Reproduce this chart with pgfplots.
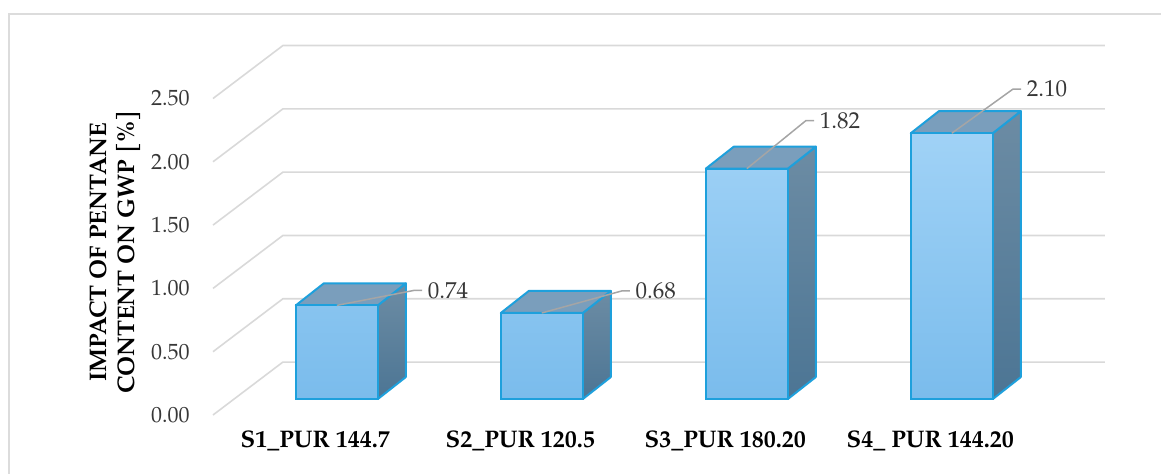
\documentclass[border=0pt]{standalone}
\usepackage{fontspec}
\setmainfont{TeX Gyre Pagella}
\usepackage{pgfplots}
\usepackage{pgfplotstable}
\pgfplotsset{compat=1.18}

\definecolor{gridc}{RGB}{217,217,217}
\definecolor{framec}{RGB}{220,220,220}
\definecolor{frontTop}{RGB}{160,210,246}
\definecolor{frontBot}{RGB}{122,188,236}
\definecolor{edgec}{RGB}{30,160,220}
\definecolor{sideTop}{RGB}{108,140,164}
\definecolor{sideBot}{RGB}{76,117,148}
\definecolor{topc}{RGB}{122,158,188}
\definecolor{leaderc}{RGB}{165,165,165}
\definecolor{tickc}{RGB}{55,55,55}

% bar values and the offsets of their leader lines (axis units)
\pgfplotstableread{
idx val lx ly
1 0.74 0.376 0.118
2 0.68 0.390 0.174
3 1.82 0.288 0.379
4 2.10 0.298 0.348
}\bardata

\begin{document}
\begin{tikzpicture}
\path[use as bounding box] (0,0) rectangle (580.5pt,236.5pt);
\draw[framec, line width=1pt] (4.25pt,-5pt) -- (4.25pt,229.5pt) -- (590pt,229.5pt);
\begin{axis}[
  at={(106.5pt,29pt)}, anchor=south west,
  x=102.5pt, y=63.3pt,
  xmin=0.396, xmax=4.746, ymin=-0.126, ymax=2.793,
  clip=false,
  axis line style={draw=none},
  tick style={draw=none},
  ytick={-0.126,0.374,0.874,1.374,1.874,2.374},
  yticklabels={0.00,0.50,1.00,1.50,2.00,2.50},
  yticklabel style={anchor=east, inner sep=0pt, xshift=-11.5pt,
    font=\fontsize{11}{13}\selectfont, text=tickc},
  xtick={0.895,1.895,2.895,3.895},
  xticklabels={S1\_PUR 144.7, S2\_PUR 120.5, S3\_PUR 180.20, S4\_ PUR 144.20},
  xticklabel style={anchor=north, inner sep=0pt, yshift=-7.5pt,
    font=\bfseries\fontsize{12}{14}\selectfont},
  ylabel={IMPACT OF PENTANE\\CONTENT ON GWP [\%]},
  ylabel style={at={(axis cs:-0.082,1.161)}, anchor=center, align=center,
    font=\bfseries\fontsize{12}{14}\selectfont},
  sideface/.style={draw=edgec, line width=1pt, line join=round,
    top color=sideTop, bottom color=sideBot, forget plot, mark=none},
  topface/.style={draw=edgec, line width=1pt, line join=round,
    fill=topc, forget plot, mark=none},
]
% floor-to-wall grid lines
\pgfplotsinvokeforeach{0,0.5,1,1.5,2,2.5}{
  \pgfmathsetmacro\ya{#1-0.126}
  \pgfmathsetmacro\yb{#1+0.2923}
  \edef\tmp{\noexpand\addplot[gridc, line width=0.8pt, mark=none, forget plot]
    coordinates {(0.396,\ya) (0.737,\yb) (4.746,\yb)};}
  \tmp
}
% side and top faces of each bar
\pgfplotsinvokeforeach{0,1,2,3}{
  \pgfplotstablegetelem{#1}{val}\of\bardata \edef\bv{\pgfplotsretval}
  \pgfplotstablegetelem{#1}{idx}\of\bardata \edef\bi{\pgfplotsretval}
  \pgfmathsetmacro\xl{\bi-0.2}
  \pgfmathsetmacro\xr{\bi+0.2}
  \pgfmathsetmacro\xld{\bi-0.2+0.1366}
  \pgfmathsetmacro\xrd{\bi+0.2+0.1366}
  \pgfmathsetmacro\vd{\bv+0.1738}
  \edef\tmp{%
    \noexpand\addplot[sideface] coordinates {(\xr,0) (\xrd,0.1738) (\xrd,\vd) (\xr,\bv)} -- cycle;
    \noexpand\addplot[topface] coordinates {(\xl,\bv) (\xld,\vd) (\xrd,\vd) (\xr,\bv)} -- cycle;
  }\tmp
}
% front faces
\addplot[ybar, bar width=0.4, draw=edgec, line width=1pt,
  top color=frontTop, bottom color=frontBot, forget plot]
  table[x=idx, y=val] {\bardata};
% value labels with leader lines
\pgfplotsinvokeforeach{0,1,2,3}{
  \pgfplotstablegetelem{#1}{val}\of\bardata \edef\bv{\pgfplotsretval}
  \pgfplotstablegetelem{#1}{idx}\of\bardata \edef\bi{\pgfplotsretval}
  \pgfplotstablegetelem{#1}{lx}\of\bardata \edef\blx{\pgfplotsretval}
  \pgfplotstablegetelem{#1}{ly}\of\bardata \edef\bly{\pgfplotsretval}
  \pgfmathsetmacro\xa{\bi+\blx}
  \pgfmathsetmacro\ya{\bv+\bly}
  \pgfmathsetmacro\xb{\xa+0.04}
  \edef\tmp{\noexpand\addplot[leaderc, line width=0.75pt, mark=none, forget plot]
    coordinates {(\bi,\bv) (\xa,\ya) (\xb,\ya)}
    node[anchor=west, inner sep=2.5pt, text=tickc, font=\noexpand\fontsize{11.5}{13}\noexpand\selectfont]
    {\noexpand\pgfmathprintnumber[fixed, fixed zerofill, precision=2, assume math mode=true]{\bv}};}
  \tmp
}
\end{axis}
\end{tikzpicture}
\end{document}
